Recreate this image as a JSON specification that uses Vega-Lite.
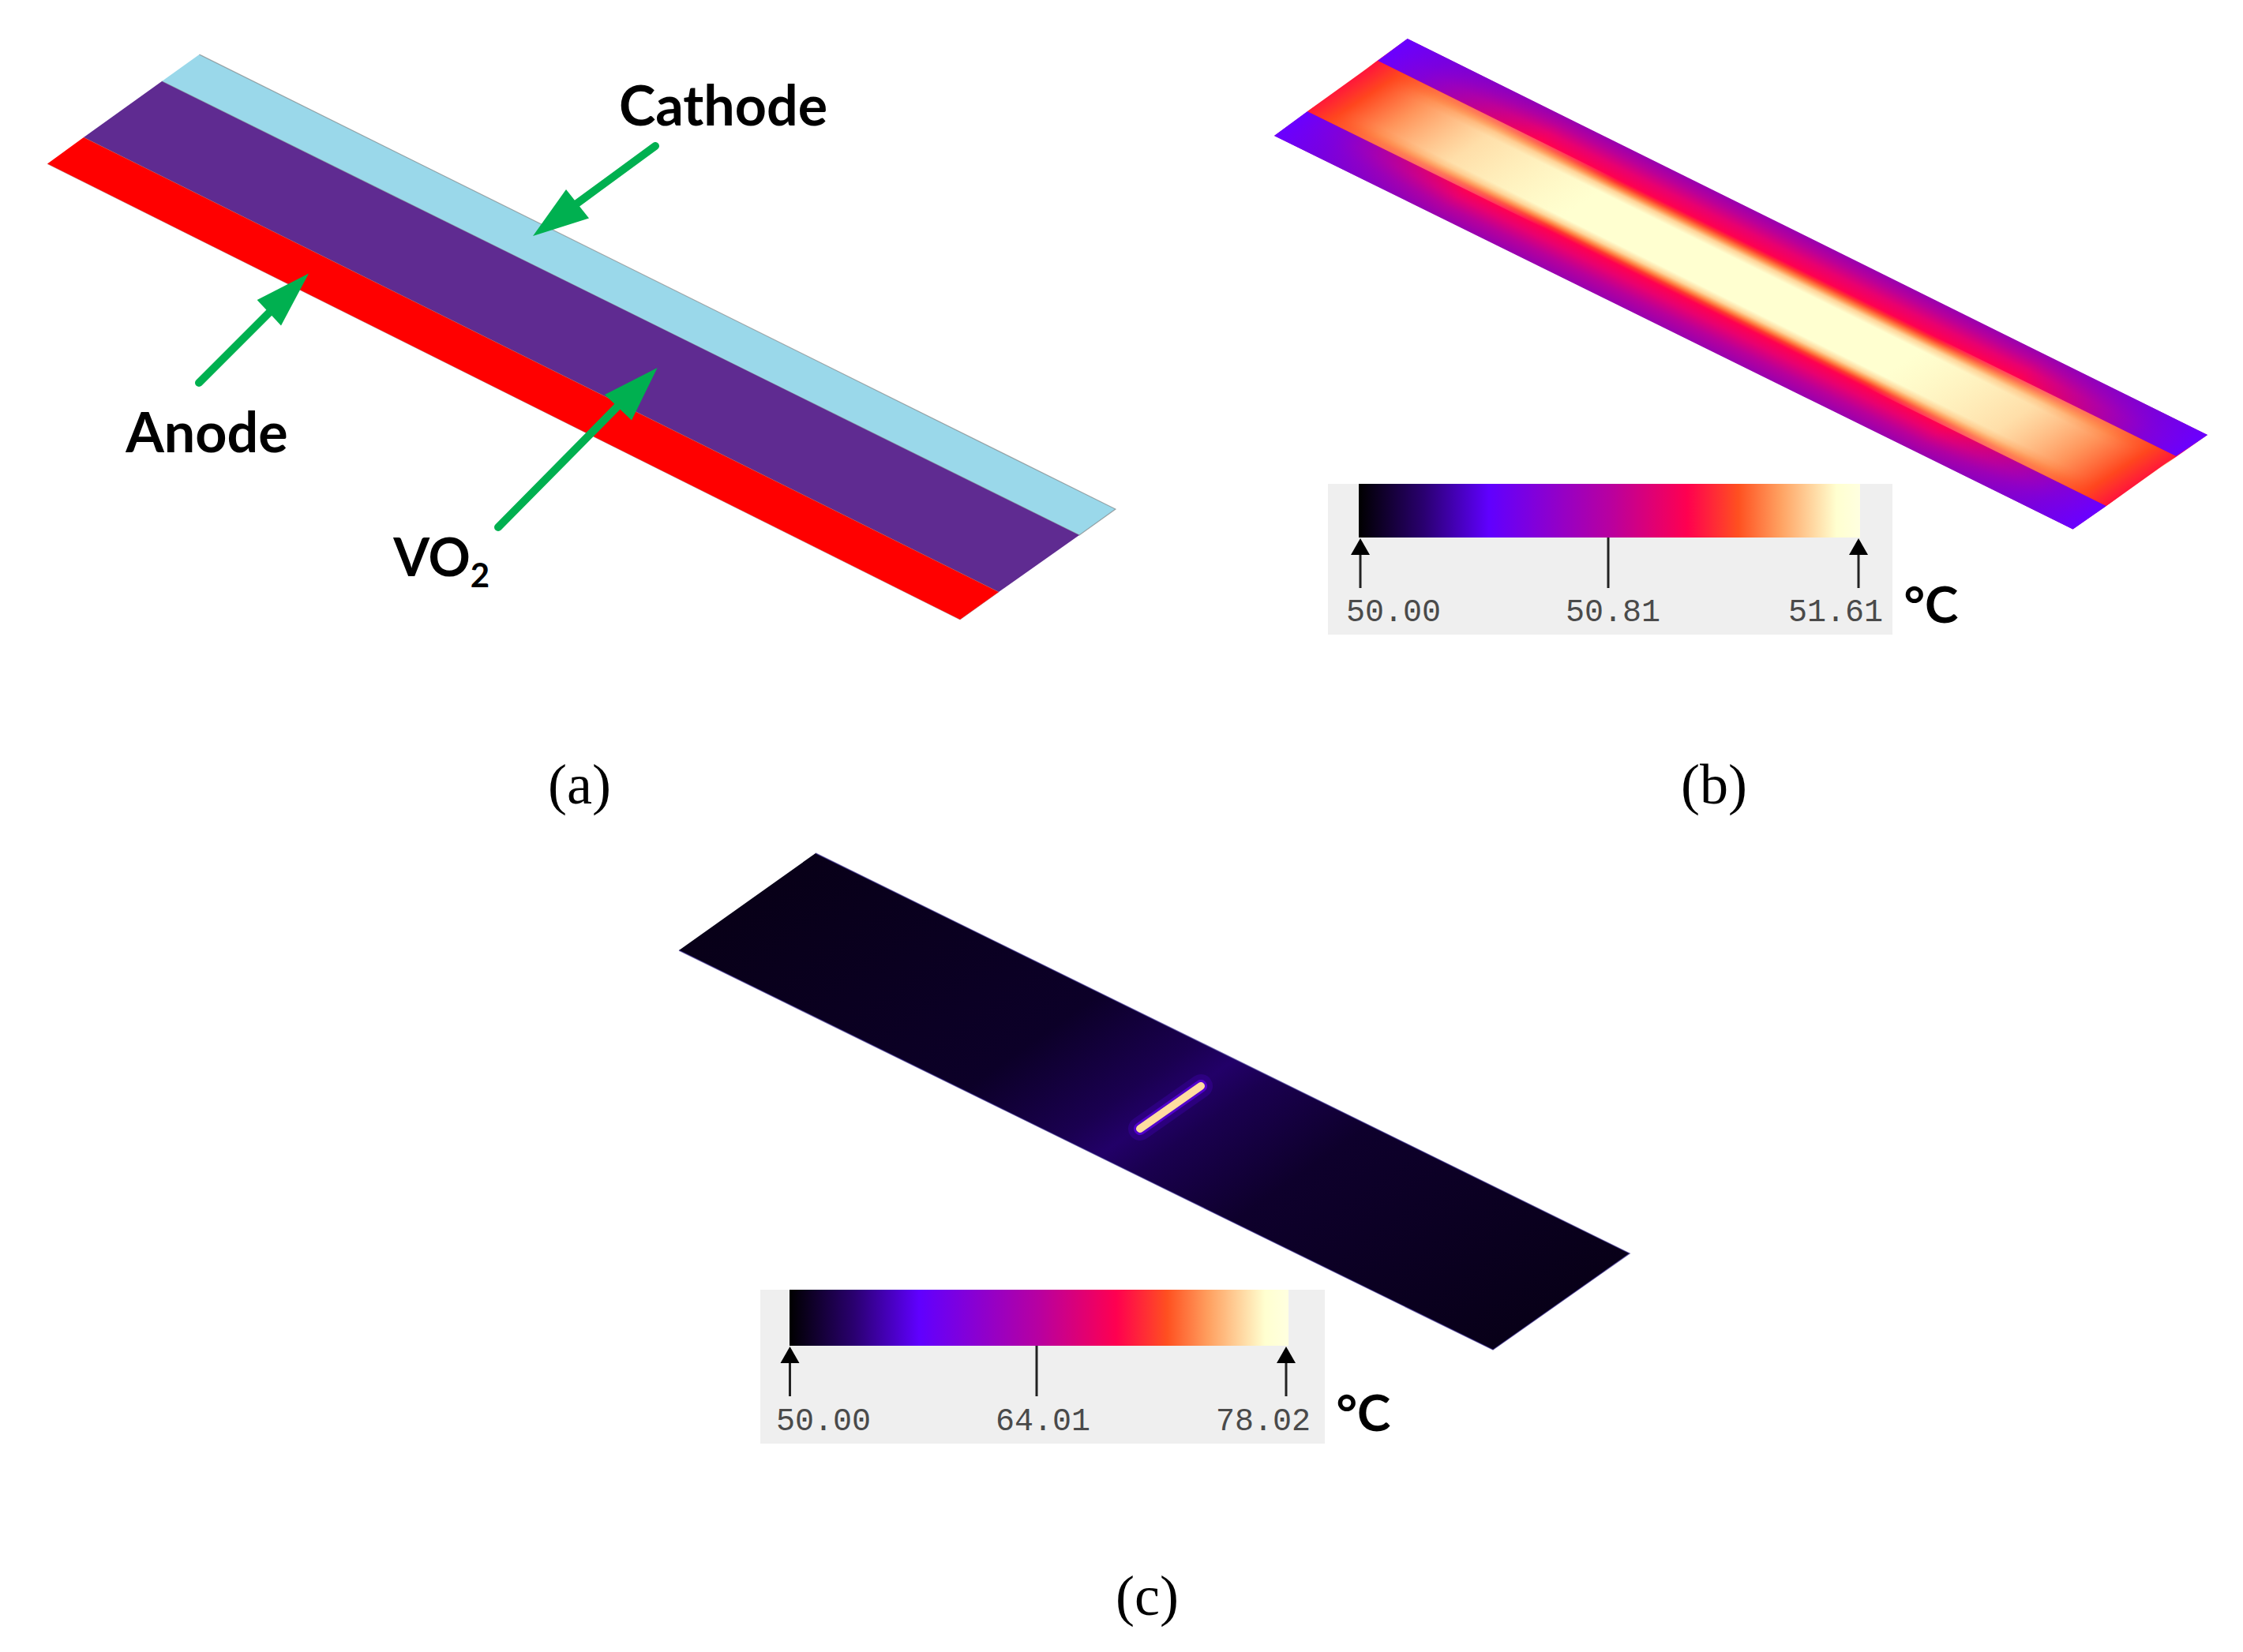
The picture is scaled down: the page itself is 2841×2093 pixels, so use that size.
{
"$schema":"https://vega.github.io/schema/vega-lite/v6.json",
"width":2841,"height":2093,"padding":0,"autosize":{"type":"fit","contains":"padding"},
"background":"white","view":{"stroke":null},
"datasets":{
"shapes":[
{"part":"cathode","i":0,"px":252.5,"py":69},{"part":"cathode","i":1,"px":1413,"py":645},{"part":"cathode","i":2,"px":1367,"py":678},{"part":"cathode","i":3,"px":205,"py":103},
{"part":"vo2","i":0,"px":205,"py":103},{"part":"vo2","i":1,"px":1367,"py":678},{"part":"vo2","i":2,"px":1265,"py":750},{"part":"vo2","i":3,"px":106,"py":174},
{"part":"anode","i":0,"px":106,"py":174},{"part":"anode","i":1,"px":1265,"py":750},{"part":"anode","i":2,"px":1216,"py":785},{"part":"anode","i":3,"px":60,"py":207.5},
{"part":"shaftC","i":0,"px":830,"py":185},{"part":"shaftC","i":1,"px":725,"py":262},
{"part":"shaftA","i":0,"px":252,"py":485},{"part":"shaftA","i":1,"px":345,"py":392},
{"part":"shaftV","i":0,"px":631,"py":668},{"part":"shaftV","i":1,"px":785,"py":512},
{"part":"headC","i":0,"px":675,"py":299},{"part":"headC","i":1,"px":717,"py":240},{"part":"headC","i":2,"px":746,"py":276.5},
{"part":"headA","i":0,"px":391,"py":346.5},{"part":"headA","i":1,"px":325.6,"py":380},{"part":"headA","i":2,"px":356,"py":412.5},
{"part":"headV","i":0,"px":832.6,"py":466},{"part":"headV","i":1,"px":766,"py":500},{"part":"headV","i":2,"px":800,"py":532.5},
{"part":"bWhole","i":0,"px":1782.7,"py":49},{"part":"bWhole","i":1,"px":2796,"py":551},{"part":"bWhole","i":2,"px":2625.5,"py":670.5},{"part":"bWhole","i":3,"px":1614,"py":172},
{"part":"bUp","i":0,"px":1782.7,"py":49},{"part":"bUp","i":1,"px":2796,"py":551},{"part":"bUp","i":2,"px":2756,"py":578},{"part":"bUp","i":3,"px":1745,"py":77},
{"part":"bLow","i":0,"px":1614,"py":172},{"part":"bLow","i":1,"px":1656,"py":141},{"part":"bLow","i":2,"px":2668,"py":641},{"part":"bLow","i":3,"px":2625.5,"py":670.5},
{"part":"bMid","i":0,"px":1656,"py":141},{"part":"bMid","i":1,"px":1745,"py":77},{"part":"bMid","i":2,"px":2756,"py":578},{"part":"bMid","i":3,"px":2668,"py":641},
{"part":"cWhole","i":0,"px":1033,"py":1081},{"part":"cWhole","i":1,"px":2064,"py":1588},{"part":"cWhole","i":2,"px":1891,"py":1710},{"part":"cWhole","i":3,"px":860,"py":1204},
{"part":"hot","i":0,"px":1521,"py":1376},{"part":"hot","i":1,"px":1444,"py":1430},
{"part":"tip1","i":0,"px":1723,"py":682},{"part":"tip1","i":1,"px":1711,"py":703},{"part":"tip1","i":2,"px":1735,"py":703},
{"part":"tip2","i":0,"px":2354,"py":682},{"part":"tip2","i":1,"px":2342,"py":703},{"part":"tip2","i":2,"px":2366,"py":703},
{"part":"tip3","i":0,"px":1000.5,"py":1706},{"part":"tip3","i":1,"px":988.5,"py":1727},{"part":"tip3","i":2,"px":1012.5,"py":1727},
{"part":"tip4","i":0,"px":1629,"py":1706},{"part":"tip4","i":1,"px":1617,"py":1727},{"part":"tip4","i":2,"px":1641,"py":1727}
],
"panels":[{"px":1682,"px2":2397,"py":613,"py2":804},{"px":963,"px2":1678,"py":1634,"py2":1829}],
"bars":[{"px":1721,"px2":2356,"py":613,"py2":681},{"px":1000,"px2":1632,"py":1634,"py2":1705}],
"ticks":[{"px":1723,"py":690,"py2":745},{"px":2037,"py":681,"py2":745},{"px":2354,"py":690,"py2":745},{"px":1000.5,"py":1715,"py2":1769},{"px":1313,"py":1705,"py2":1769},{"px":1629,"py":1715,"py2":1769}],
"labels":[{"t":"50.00","px":1765,"py":787},{"t":"50.81","px":2043,"py":787},{"t":"51.61","px":2325,"py":787},{"t":"50.00","px":1043,"py":1812},{"t":"64.01","px":1321,"py":1812},{"t":"78.02","px":1600,"py":1812}],
"names":[{"t":"Cathode","px":916,"py":159,"s":70},{"t":"Anode","px":262,"py":573,"s":70},{"t":"VO","px":547,"py":730,"s":66}],
"units":[{"t":"°C","px":2446,"py":789},{"t":"°C","px":1727,"py":1813}],
"subs":[{"t":"2","px":608,"py":744}],
"caps":[{"t":"(a)","px":734,"py":1018},{"t":"(b)","px":2171,"py":1018},{"t":"(c)","px":1453,"py":2046}]
},
"data":{"name":"shapes"},
"encoding":{
"x":{"field":"px","type":"quantitative","scale":{"domain":[0,2841]},"axis":null},
"y":{"field":"py","type":"quantitative","scale":{"domain":[2093,0]},"axis":null}
},
"layer":[
{"transform":[{"filter":"datum.part==='cathode'"}],"mark":{"type":"line","fill":"#9ad8ea","stroke":"#777","strokeWidth":1.2,"strokeOpacity":0.6},"encoding":{"order":{"field":"i"}}},
{"transform":[{"filter":"datum.part==='vo2'"}],"mark":{"type":"line","fill":"#5f2b91","strokeOpacity":0},"encoding":{"order":{"field":"i"}}},
{"transform":[{"filter":"datum.part==='anode'"}],"mark":{"type":"line","fill":"#ff0000","stroke":"#a05050","strokeWidth":1,"strokeOpacity":0.5},"encoding":{"order":{"field":"i"}}},
{"transform":[{"filter":"indexof(datum.part,'shaft')===0"}],"mark":{"type":"line","stroke":"#00b050","strokeWidth":10,"strokeCap":"round"},"encoding":{"order":{"field":"i"},"detail":{"field":"part"}}},
{"transform":[{"filter":"indexof(datum.part,'head')===0"}],"mark":{"type":"line","fill":"#00b050","strokeOpacity":0},"encoding":{"order":{"field":"i"},"detail":{"field":"part"}}},
{"transform":[{"filter":"datum.part==='bWhole'"}],"mark":{"type":"line","strokeOpacity":0,"fill":{"gradient":"linear","x1":0,"y1":0.197,"x2":0.1655,"y2":0.0213,"stops":[
{"offset":0,"color":"#9800b0"},{"offset":0.09,"color":"#b8009a"},{"offset":0.18,"color":"#e80070"},{"offset":0.25,"color":"#ff0050"},{"offset":0.28,"color":"#ff3a30"},{"offset":0.305,"color":"#ff8a48"},{"offset":0.335,"color":"#ffd498"},{"offset":0.375,"color":"#ffffd0"},{"offset":0.645,"color":"#ffffd0"},{"offset":0.69,"color":"#ffd498"},{"offset":0.72,"color":"#ff8a48"},{"offset":0.75,"color":"#ff3a30"},{"offset":0.776,"color":"#ff0050"},{"offset":0.85,"color":"#e80070"},{"offset":0.93,"color":"#b8009a"},{"offset":1,"color":"#9800b0"}]}},"encoding":{"order":{"field":"i"}}},
{"transform":[{"filter":"datum.part==='bUp'"}],"mark":{"type":"line","strokeOpacity":0,"fill":{"gradient":"linear","x1":0.03587,"y1":0,"x2":1.1476,"y2":0.7189,"stops":[
{"offset":0,"color":"rgba(106,0,255,1)"},{"offset":0.05,"color":"rgba(112,0,235,0.85)"},{"offset":0.2,"color":"rgba(130,0,200,0)"},{"offset":0.8,"color":"rgba(130,0,200,0)"},{"offset":0.95,"color":"rgba(112,0,235,0.85)"},{"offset":1,"color":"rgba(106,0,255,1)"}]}},"encoding":{"order":{"field":"i"}}},
{"transform":[{"filter":"datum.part==='bLow'"}],"mark":{"type":"line","strokeOpacity":0,"fill":{"gradient":"linear","x1":0,"y1":0.0656,"x2":1.1151,"y2":0.747,"stops":[
{"offset":0,"color":"rgba(106,0,255,1)"},{"offset":0.05,"color":"rgba(112,0,235,0.85)"},{"offset":0.2,"color":"rgba(130,0,200,0)"},{"offset":0.8,"color":"rgba(130,0,200,0)"},{"offset":0.95,"color":"rgba(112,0,235,0.85)"},{"offset":1,"color":"rgba(106,0,255,1)"}]}},"encoding":{"order":{"field":"i"}}},
{"transform":[{"filter":"datum.part==='bMid'"}],"mark":{"type":"line","strokeOpacity":0,"fill":{"gradient":"linear","x1":0,"y1":0.1051,"x2":1.0083,"y2":0.8855,"stops":[
{"offset":0,"color":"rgba(255,20,60,1)"},{"offset":0.03,"color":"rgba(255,70,30,1)"},{"offset":0.08,"color":"rgba(255,130,70,0.85)"},{"offset":0.16,"color":"rgba(255,190,130,0.5)"},{"offset":0.3,"color":"rgba(255,220,160,0)"},{"offset":0.7,"color":"rgba(255,220,160,0)"},{"offset":0.84,"color":"rgba(255,190,130,0.5)"},{"offset":0.92,"color":"rgba(255,130,70,0.85)"},{"offset":0.97,"color":"rgba(255,70,30,1)"},{"offset":1,"color":"rgba(255,20,60,1)"}]}},"encoding":{"order":{"field":"i"}}},
{"transform":[{"filter":"datum.part==='cWhole'"}],"mark":{"type":"line","stroke":"#2a1a80","strokeWidth":1.5,"strokeOpacity":0.6,"fill":{"gradient":"linear","x1":0,"y1":0.1955,"x2":0.9407,"y2":0.887,"stops":[
{"offset":0,"color":"#080018"},{"offset":0.35,"color":"#0c0028"},{"offset":0.47,"color":"#1a0050"},{"offset":0.515,"color":"#220068"},{"offset":0.56,"color":"#1a0050"},{"offset":0.68,"color":"#0e002c"},{"offset":1,"color":"#080018"}]}},"encoding":{"order":{"field":"i"}}},
{"transform":[{"filter":"datum.part==='hot'"}],"mark":{"type":"line","stroke":"#4a00c0","strokeWidth":30,"strokeOpacity":0.3,"strokeCap":"round"},"encoding":{"order":{"field":"i"}}},
{"transform":[{"filter":"datum.part==='hot'"}],"mark":{"type":"line","stroke":"#6a00ff","strokeWidth":16,"strokeOpacity":0.6,"strokeCap":"round"},"encoding":{"order":{"field":"i"}}},
{"transform":[{"filter":"datum.part==='hot'"}],"mark":{"type":"line","stroke":"#ffdca0","strokeWidth":10,"strokeCap":"round"},"encoding":{"order":{"field":"i"}}},
{"data":{"name":"panels"},"mark":{"type":"rect","fill":"#efefef"},"encoding":{"x2":{"field":"px2"},"y2":{"field":"py2"}}},
{"data":{"name":"bars"},"mark":{"type":"rect","fill":{"gradient":"linear","x1":0,"y1":0,"x2":1,"y2":0,"stops":[
{"offset":0,"color":"#000000"},{"offset":0.13,"color":"#2a0070"},{"offset":0.26,"color":"#6000ff"},{"offset":0.5,"color":"#b800a0"},{"offset":0.655,"color":"#ff0050"},{"offset":0.757,"color":"#ff5020"},{"offset":0.84,"color":"#ffa060"},{"offset":0.953,"color":"#ffffd0"},{"offset":1,"color":"#ffffe0"}]}},"encoding":{"x2":{"field":"px2"},"y2":{"field":"py2"}}},
{"data":{"name":"ticks"},"mark":{"type":"rule","stroke":"#222222","strokeWidth":3},"encoding":{"y2":{"field":"py2"}}},
{"transform":[{"filter":"indexof(datum.part,'tip')===0"}],"mark":{"type":"line","fill":"#000000","strokeOpacity":0},"encoding":{"order":{"field":"i"},"detail":{"field":"part"}}},
{"data":{"name":"labels"},"mark":{"type":"text","font":"Liberation Mono","fontSize":40,"fill":"#4a4a4a","baseline":"alphabetic","align":"center"},"encoding":{"text":{"field":"t"}}},
{"data":{"name":"names"},"mark":{"type":"text","font":"Lato","fontWeight":"bold","fill":"#000000","baseline":"alphabetic","align":"center"},"encoding":{"text":{"field":"t"},"size":{"field":"s","type":"quantitative","scale":null}}},
{"data":{"name":"units"},"mark":{"type":"text","font":"Lato","fontWeight":"bold","fontSize":64,"fill":"#000000","baseline":"alphabetic","align":"center"},"encoding":{"text":{"field":"t"}}},
{"data":{"name":"subs"},"mark":{"type":"text","font":"Lato","fontWeight":"bold","fontSize":42,"fill":"#000000","baseline":"alphabetic","align":"center"},"encoding":{"text":{"field":"t"}}},
{"data":{"name":"caps"},"mark":{"type":"text","font":"Liberation Serif","fontSize":72,"fill":"#000000","baseline":"alphabetic","align":"center"},"encoding":{"text":{"field":"t"}}}
]
}
